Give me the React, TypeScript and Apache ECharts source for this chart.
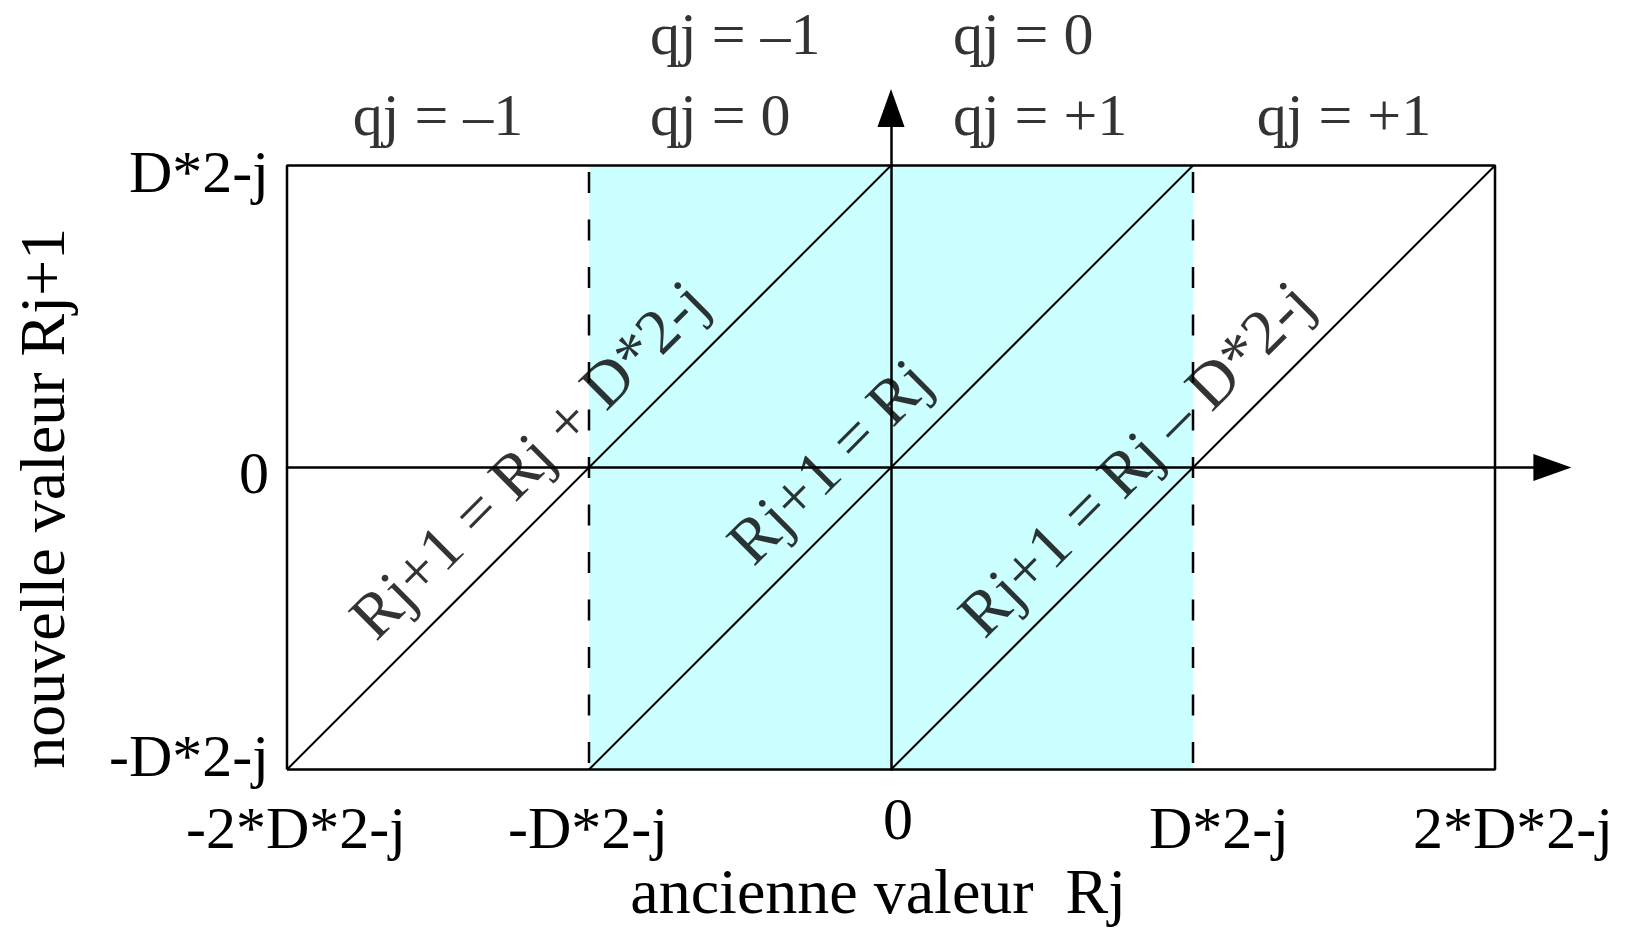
import React, { useEffect, useRef } from "react";
import * as echarts from "echarts";

// ---------------- data ----------------
const X_TICKS = [-2, -1, 0, 1, 2];
const X_TICK_LABELS = ["-2*D*2-j", "-D*2-j", "0", "D*2-j", "2*D*2-j"];
const Y_TICKS = [-1, 0, 1];
const Y_TICK_LABELS = ["-D*2-j", "0", "D*2-j"];
const X_NAME = "ancienne valeur  Rj";
const Y_NAME = "nouvelle valeur Rj+1";
const X_MIN = -2;
const X_MAX = 2.19;
const Y_MIN = -1;
const Y_MAX = 1.19;

// frame of the diagram (data units: D*2^-j)
const FRAME = [[-2, -1], [2, -1], [2, 1], [-2, 1], [-2, -1]];
// shaded band  -D*2^-j .. D*2^-j (top edge, filled down to the axis start)
const BAND_TOP = [[-1, 1], [1, 1]];
const DASHED_LEFT = [[-1, 1], [-1, -1]];
const DASHED_RIGHT = [[1, 1], [1, -1]];
// transfer lines  Rj+1 = Rj - qj*D*2^-j
const LINE_PLUS = [[-2, -1], [0, 1]];
const LINE_ZERO = [[-1, -1], [1, 1]];
const LINE_MINUS = [[0, -1], [2, 1]];
const LINE_LABELS = ["Rj+1 = Rj + D*2-j", "Rj+1 = Rj", "Rj+1 = Rj \u2013 D*2-j"];
const REGION_LABELS = ["qj = \u20131", "qj = \u20131\nqj = 0", "qj = 0\nqj = +1", "qj = +1"];

// ---------------- layout / style ----------------
const LINE_LABEL_AT = [[-1.2, 0.027], [-0.205, 0.02], [0.81, 0.03]];
const REGION_LABEL_AT: [number, number, string][] = [
  [-1.5, 1.167, "center"],
  [-0.798, 1.301, "left"],
  [0.205, 1.301, "left"],
  [1.5, 1.167, "center"],
];
const X_LABEL_PAD = [[9, 0, 0, 18], [9, 2, 0, 0], [0, 0, 0, 14], [9, 0, 0, 52], [9, 0, 0, 36]];
const Y_LABEL_PAD = [[0, 0, 27, 0], [12, 0, 0, 0], [13, 0, 0, 0]];

const FONT = "'Liberation Serif', 'Times New Roman', Times, serif";
const BLACK = "#000000";
const CYAN = "#ccffff";
const ARROW = "path://M5,0L10,14L0,14Z";

function tickIndex(ticks: number[], v: number) {
  const r = Math.round(v);
  if (Math.abs(v - r) > 1e-6) return -1;
  return ticks.indexOf(r);
}

function seg(data: number[][], extra: any = {}) {
  return {
    type: "line",
    data,
    symbol: "none",
    showSymbol: false,
    clip: false,
    silent: true,
    z: 3,
    lineStyle: { color: BLACK, width: 2, ...extra },
    emphasis: { disabled: true },
  };
}

function buildOption() {
  const xRich: any = {};
  X_TICK_LABELS.forEach((_, i) => {
    xRich["x" + i] = { fontFamily: FONT, fontSize: 60, color: BLACK, padding: X_LABEL_PAD[i] };
  });
  const yRich: any = {};
  Y_TICK_LABELS.forEach((_, i) => {
    yRich["y" + i] = { fontFamily: FONT, fontSize: 60, color: BLACK, padding: Y_LABEL_PAD[i] };
  });

  const hidden = { show: false };

  return {
    animation: false,
    backgroundColor: "#ffffff",
    grid: {
      left: 287,
      right: 75.6,
      top: 108.1,
      bottom: 166.5,
      containLabel: false,
      outerBoundsMode: "none",
    },
    xAxis: [
      {
        type: "value",
        min: X_MIN,
        max: X_MAX,
        interval: 1,
        position: "bottom",
        axisLine: { show: false, onZero: false },
        axisTick: hidden,
        splitLine: hidden,
        axisLabel: {
          margin: 19,
          fontFamily: FONT,
          fontSize: 60,
          color: BLACK,
          rich: xRich,
          formatter: (v: number) => {
            const i = tickIndex(X_TICKS, v);
            return i < 0 ? "" : `{x${i}|${X_TICK_LABELS[i]}}`;
          },
        },
        name: X_NAME,
        nameLocation: "middle",
        nameGap: 89.5,
        nameMoveOverlap: false,
        nameTextStyle: { fontFamily: FONT, fontSize: 64, color: BLACK, padding: [0, 83, 0, 0] },
      },
      {
        type: "value",
        min: X_MIN,
        max: X_MAX,
        z: 5,
        axisLine: {
          show: true,
          onZero: true,
          onZeroAxisIndex: 0,
          symbol: ["none", ARROW],
          symbolSize: [28, 38],
          lineStyle: { color: BLACK, width: 2.5 },
        },
        axisTick: hidden,
        axisLabel: hidden,
        splitLine: hidden,
      },
    ],
    yAxis: [
      {
        type: "value",
        min: Y_MIN,
        max: Y_MAX,
        interval: 1,
        position: "left",
        axisLine: { show: false, onZero: false },
        axisTick: hidden,
        splitLine: hidden,
        axisLabel: {
          margin: 18,
          fontFamily: FONT,
          fontSize: 60,
          color: BLACK,
          rich: yRich,
          formatter: (v: number) => {
            const i = tickIndex(Y_TICKS, v);
            return i < 0 ? "" : `{y${i}|${Y_TICK_LABELS[i]}}`;
          },
        },
        name: Y_NAME,
        nameLocation: "middle",
        nameGap: 213,
        nameMoveOverlap: false,
        nameTextStyle: { fontFamily: FONT, fontSize: 64, color: BLACK, padding: [0, 119, 0, 0] },
      },
      {
        type: "value",
        min: Y_MIN,
        max: Y_MAX,
        z: 5,
        axisLine: {
          show: true,
          onZero: true,
          onZeroAxisIndex: 0,
          symbol: ["none", ARROW],
          symbolSize: [28, 38],
          lineStyle: { color: BLACK, width: 2.5 },
        },
        axisTick: hidden,
        axisLabel: hidden,
        splitLine: hidden,
      },
    ],
    series: [
      {
        type: "line",
        data: BAND_TOP,
        symbol: "none",
        silent: true,
        z: 1,
        lineStyle: { width: 0, opacity: 0 },
        areaStyle: { color: CYAN, opacity: 1, origin: "start" },
        emphasis: { disabled: true },
      },
      seg(FRAME, { width: 2.5 }),
      seg(DASHED_LEFT, { width: 2.5, type: [21, 26.5], dashOffset: 40.5 }),
      seg(DASHED_RIGHT, { width: 2.5, type: [21, 26.5], dashOffset: 40.5 }),
      seg(LINE_PLUS),
      seg(LINE_ZERO),
      seg(LINE_MINUS),
      {
        type: "scatter",
        symbolSize: 1,
        clip: false,
        silent: true,
        z: 6,
        itemStyle: { color: "rgba(0,0,0,0)" },
        data: LINE_LABELS.map((t, i) => ({ name: t, value: LINE_LABEL_AT[i] })),
        label: {
          show: true,
          position: "inside",
          formatter: "{b}",
          rotate: 45,
          fontFamily: FONT,
          fontSize: 64,
          color: BLACK,
          align: "center",
          verticalAlign: "middle",
        },
        emphasis: { disabled: true },
      },
      {
        type: "scatter",
        symbolSize: 1,
        clip: false,
        silent: true,
        z: 6,
        itemStyle: { color: "rgba(0,0,0,0)" },
        data: REGION_LABELS.map((t, i) => ({
          name: t,
          value: [REGION_LABEL_AT[i][0], REGION_LABEL_AT[i][1]],
          label: { align: REGION_LABEL_AT[i][2] },
        })),
        label: {
          show: true,
          position: "inside",
          formatter: "{b}",
          fontFamily: FONT,
          fontSize: 60,
          lineHeight: 81,
          color: BLACK,
          verticalAlign: "middle",
        },
        emphasis: { disabled: true },
      },
    ],
  };
}

export default function App() {
  const ref = useRef<HTMLDivElement>(null);
  useEffect(() => {
    if (!ref.current) return;
    const chart = echarts.init(ref.current, null, { renderer: "svg" });
    chart.setOption(buildOption() as any);
    return () => chart.dispose();
  }, []);
  return (
    <div
      ref={ref}
      style={{ position: "fixed", left: 0, top: 0, width: 1628, height: 936, background: "#ffffff" }}
    />
  );
}
